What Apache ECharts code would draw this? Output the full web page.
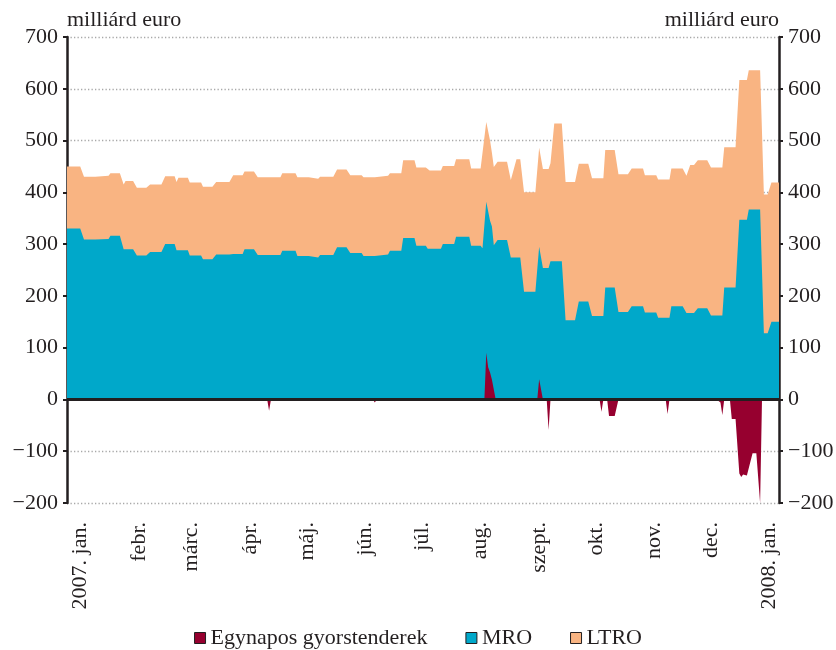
<!DOCTYPE html>
<html>
<head>
<meta charset="utf-8">
<script src="https://cdn.jsdelivr.net/npm/echarts@6/dist/echarts.min.js"></script>
<style>
html,body{margin:0;padding:0;background:#fff;}
#c{width:836px;height:650px;}
</style>
</head>
<body>
<div id="c"></div>
<script>
// x values: days counted from 1 Jan 2007
const days = [-7,0,2,8,9,15,16,21,23,24,28,30,35,37,43,45,50,51,52,57,58,64,65,70,72,79,81,86,87,92,94,106,107,114,115,121,122,126,127,134,136,141,143,149,150,156,157,163,164,170,171,177,178,183,184,185,191,192,198,199,206,207,212,213,215,217,218,219,221,226,228,231,233,235,241,243,245,248,249,251,255,257,262,264,269,271,277,278,283,285,290,292,298,299,305,306,312,313,319,321,323,325,327,332,334,340,341,347,349,353,354,360,362,364,366,370];
const mro = [330,330,309,309,310,310,316,316,290,290,290,278,278,285,285,300,300,288,288,288,278,278,271,271,280,280,281,281,290,290,279,279,287,287,277,277,274,274,279,279,294,294,283,283,277,277,280,280,287,287,312,312,297,297,291,291,291,300,300,314,314,297,297,292,382,345,334,298,308,308,274,274,274,208,208,295,254,254,267,267,267,153,153,189,189,161,161,216,216,169,169,180,180,168,168,158,158,180,180,167,167,167,176,176,162,162,216,216,347,347,367,367,128,128,150,150];
const ltro = [120,120,121,121,122,122,121,121,125,132,132,131,131,130,130,131,131,132,140,140,141,141,140,140,140,140,152,152,150,150,150,150,150,150,152,152,152,152,151,151,150,150,150,150,152,152,152,152,150,150,150,150,151,151,154,151,151,151,151,150,150,149,149,152,154,155,142,151,151,151,150,190,190,192,192,191,191,191,189,266,266,267,267,266,266,266,266,266,266,266,266,266,266,265,265,267,267,266,266,265,286,286,286,286,286,286,271,271,270,270,269,269,268,268,269,269];
const ovDays = [-7,99,100,101,155,156,157,214,215,216,217,218,220,242,243,245,247,248,249,275,276,277,279,280,283,285,310,311,312,337,339,340,341,344,345,347,349,350,351,353,354,356,358,360,361,370];
const overnight = [0,0,-22,0,0,-6,0,0,90,62,52,38,0,0,39,0,0,-59,0,0,-24,0,0,-32,-32,0,0,-28,0,0,-6,-30,0,0,-38,-38,-143,-150,-145,-147,-150,-104,-104,-200,0,0];
const monthTicks = [0,31,59,90,120,151,181,212,243,273,304,334,365];
const monthLabels = ['2007. jan.','febr.','márc.','ápr.','máj.','jún.','júl.','aug.','szept.','okt.','nov.','dec.','2008. jan.'];
const seriesNames = ['Egynapos gyorstenderek','MRO','LTRO'];
const unitLabel = 'milliárd euro';

const FONT = 'Liberation Serif';
const INK = '#231f20';
// LTRO is stacked on top of MRO: its area is drawn from 0 up to MRO+LTRO, behind MRO
const ltroStackTop = days.map((d, i) => [d, mro[i] + ltro[i]]);
const mroPts = days.map((d, i) => [d, mro[i]]);
const ovPts = ovDays.map((d, i) => [d, overnight[i]]);
const yFmt = v => v < 0 ? '\u2212' + Math.abs(v) : String(v);

const yAxisBase = {
  type: 'value', min: -200, max: 700, interval: 100,
  axisLine: {show: true, onZero: false, lineStyle: {color: INK, width: 2.5}},
  axisTick: {show: true, length: 4, lineStyle: {color: INK, width: 2}},
  axisLabel: {color: INK, fontFamily: FONT, fontSize: 22, margin: 9, formatter: yFmt},
  nameTextStyle: {color: INK, fontFamily: FONT, fontSize: 22, verticalAlign: 'bottom'},
  nameGap: 6
};

const chart = echarts.init(document.getElementById('c'), null, {renderer: 'canvas'});
chart.setOption({
  animation: false,
  backgroundColor: '#fff',
  grid: {left: 67, right: 57, top: 37, bottom: 147, containLabel: false, outerBoundsMode: 'none'},
  xAxis: {
    type: 'value', min: -7, max: 370,
    axisLine: {show: false, onZero: false},
    axisTick: {show: false},
    splitLine: {show: false},
    axisLabel: {
      customValues: monthTicks, rotate: 90, margin: 19,
      color: INK, fontFamily: FONT, fontSize: 22,
      formatter: v => { const i = monthTicks.indexOf(v); return i >= 0 ? monthLabels[i] : ''; }
    }
  },
  yAxis: [
    Object.assign({}, yAxisBase, {
      position: 'left', name: unitLabel,
      nameTextStyle: Object.assign({}, yAxisBase.nameTextStyle, {align: 'left'}),
      splitLine: {show: true, lineStyle: {color: '#a8a8a8', width: 1.3, type: [1.3, 2.2]}}
    }),
    Object.assign({}, yAxisBase, {
      position: 'right', name: unitLabel,
      nameTextStyle: Object.assign({}, yAxisBase.nameTextStyle, {align: 'right'}),
      splitLine: {show: false}
    })
  ],
  legend: {
    data: seriesNames,
    bottom: -4, left: 'center',
    itemWidth: 11, itemHeight: 11, itemGap: 38,
    icon: 'rect',
    itemStyle: {borderColor: INK, borderWidth: 1},
    textStyle: {color: INK, fontFamily: FONT, fontSize: 22}
  },
  series: [
    {
      name: 'LTRO', type: 'line', data: ltroStackTop,
      showSymbol: false, symbol: 'none', lineStyle: {width: 0},
      itemStyle: {color: '#f9b482'}, areaStyle: {color: '#f9b482', opacity: 1}, z: 2
    },
    {
      name: 'MRO', type: 'line', data: mroPts,
      showSymbol: false, symbol: 'none', lineStyle: {width: 0},
      itemStyle: {color: '#00a8ca'}, areaStyle: {color: '#00a8ca', opacity: 1}, z: 3
    },
    {
      name: 'Egynapos gyorstenderek', type: 'line', data: ovPts,
      showSymbol: false, symbol: 'none', lineStyle: {width: 0},
      itemStyle: {color: '#96002f'}, areaStyle: {color: '#96002f', opacity: 1}, z: 4,
      markLine: {
        silent: true, symbol: ['none', 'none'], label: {show: false},
        lineStyle: {type: 'solid', color: INK, width: 3},
        data: [{yAxis: 0}]
      }
    }
  ]
});
</script>
</body>
</html>
